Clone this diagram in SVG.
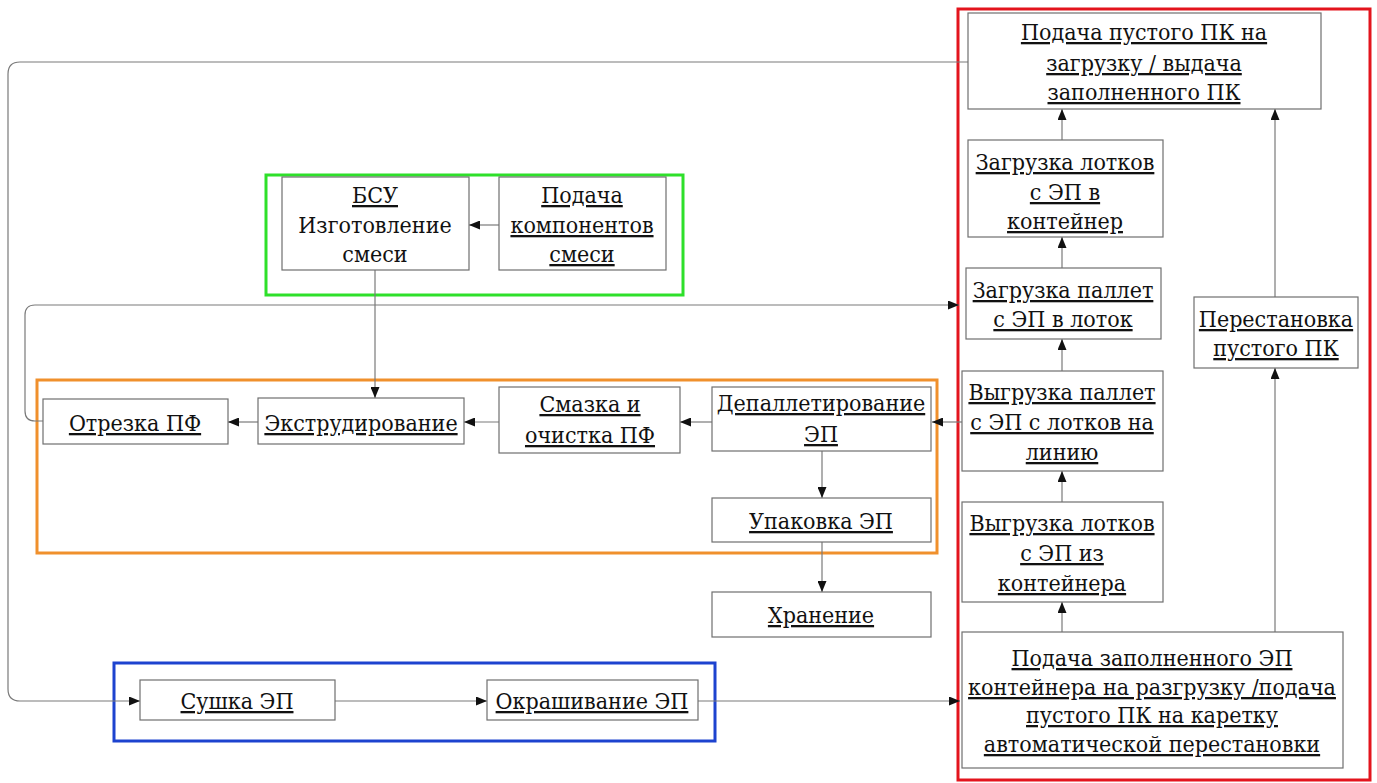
<svg xmlns="http://www.w3.org/2000/svg" width="1377" height="783" viewBox="0 0 1377 783">
<style>
.bg{fill:#ffffff}
.node rect{fill:#ffffff;stroke:#6f6f6f;stroke-width:1.2}
.node text{font-family:'DejaVu Serif Condensed','DejaVu Serif',serif;font-stretch:condensed;font-size:23px;fill:#111111;text-anchor:middle}
.u{text-decoration:underline;text-decoration-color:#8a8a8a}
.frame{fill:none;stroke-width:3}
.conn path{fill:none;stroke:#7a7a7a;stroke-width:1.2}
</style>
<defs>
<marker id="ah" markerUnits="userSpaceOnUse" markerWidth="11" markerHeight="9" refX="11" refY="4.5" orient="auto">
<path d="M0,0 L11,4.5 L0,9 Z" fill="#111111"/>
</marker>
</defs>
<rect class="bg" x="0" y="0" width="1377" height="783"/>

<g id="frames">
<rect class="frame" x="958" y="9" width="412" height="771" stroke="#e3141d"/>
<rect class="frame" x="266" y="175" width="417" height="120" stroke="#2ee02a"/>
<rect class="frame" x="37" y="380" width="900" height="173" stroke="#f0902c"/>
<rect class="frame" x="114" y="663" width="601" height="78" stroke="#1d43cf"/>
</g>

<g id="connectors" class="conn">
<path d="M968,62 H20 Q8,62 8,74 V689 Q8,701 20,701 H140" marker-end="url(#ah)"/>
<path d="M43,421 H35 Q25,421 25,411 V315 Q25,305 35,305 H959" marker-end="url(#ah)"/>
<path d="M375,270 V398" marker-end="url(#ah)"/>
<path d="M499,225 H469" marker-end="url(#ah)"/>
<path d="M258,422 H228" marker-end="url(#ah)"/>
<path d="M499,422 H464" marker-end="url(#ah)"/>
<path d="M712,422 H680" marker-end="url(#ah)"/>
<path d="M962,422 H932" marker-end="url(#ah)"/>
<path d="M822,451 V498" marker-end="url(#ah)"/>
<path d="M822,542 V592" marker-end="url(#ah)"/>
<path d="M335,701 H487" marker-end="url(#ah)"/>
<path d="M698,701 H960" marker-end="url(#ah)"/>
<path d="M1062,632 V602" marker-end="url(#ah)"/>
<path d="M1062,502 V471" marker-end="url(#ah)"/>
<path d="M1062,371 V339" marker-end="url(#ah)"/>
<path d="M1062,268 V237" marker-end="url(#ah)"/>
<path d="M1062,140 V109" marker-end="url(#ah)"/>
<path d="M1275,632 V368" marker-end="url(#ah)"/>
<path d="M1275,297 V109" marker-end="url(#ah)"/>
</g>

<g id="n_top" class="node">
<rect x="968" y="13" width="353" height="96"/>
<text x="1144" y="40" class="u">Подача пустого ПК на</text>
<text x="1144" y="71" class="u">загрузку / выдача</text>
<text x="1144" y="100" class="u">заполненного ПК</text>
</g>
<g id="n_zagr_lotkov" class="node">
<rect x="968" y="140" width="195" height="97"/>
<text x="1065" y="170" class="u">Загрузка лотков</text>
<text x="1065" y="200" class="u">с ЭП в</text>
<text x="1065" y="229" class="u">контейнер</text>
</g>
<g id="n_zagr_pallet" class="node">
<rect x="966" y="268" width="195" height="71"/>
<text x="1063" y="298" class="u">Загрузка паллет</text>
<text x="1063" y="327" class="u">с ЭП в лоток</text>
</g>
<g id="n_perestanovka" class="node">
<rect x="1194" y="297" width="164" height="71"/>
<text x="1276" y="327" class="u">Перестановка</text>
<text x="1276" y="356" class="u">пустого ПК</text>
</g>
<g id="n_vygr_pallet" class="node">
<rect x="962" y="371" width="201" height="100"/>
<text x="1062" y="400" class="u">Выгрузка паллет</text>
<text x="1062" y="430" class="u">с ЭП с лотков на</text>
<text x="1062" y="460" class="u">линию</text>
</g>
<g id="n_vygr_lotkov" class="node">
<rect x="962" y="502" width="201" height="100"/>
<text x="1062" y="531" class="u">Выгрузка лотков</text>
<text x="1062" y="561" class="u">с ЭП из</text>
<text x="1062" y="591" class="u">контейнера</text>
</g>
<g id="n_podacha_zap" class="node">
<rect x="962" y="632" width="381" height="136"/>
<text x="1152" y="666" class="u">Подача заполненного ЭП</text>
<text x="1152" y="695" class="u">контейнера на разгрузку /подача</text>
<text x="1152" y="723" class="u">пустого ПК на каретку</text>
<text x="1152" y="752" class="u">автоматической перестановки</text>
</g>
<g id="n_bsu" class="node">
<rect x="282" y="177" width="187" height="93"/>
<text x="375" y="203" class="u">БСУ</text>
<text x="375" y="233">Изготовление</text>
<text x="375" y="262">смеси</text>
</g>
<g id="n_komponenty" class="node">
<rect x="499" y="177" width="167" height="93"/>
<text x="582" y="203" class="u">Подача</text>
<text x="582" y="233" class="u">компонентов</text>
<text x="582" y="262" class="u">смеси</text>
</g>
<g id="n_otrezka" class="node">
<rect x="43" y="399" width="185" height="45"/>
<text x="135" y="431" class="u">Отрезка ПФ</text>
</g>
<g id="n_ekstrud" class="node">
<rect x="258" y="398" width="206" height="46"/>
<text x="361" y="431" class="u">Экструдирование</text>
</g>
<g id="n_smazka" class="node">
<rect x="499" y="387" width="181" height="66"/>
<text x="590" y="412" class="u">Смазка и</text>
<text x="590" y="443" class="u">очистка ПФ</text>
</g>
<g id="n_depall" class="node">
<rect x="712" y="387" width="219" height="64"/>
<text x="821" y="411" class="u">Депаллетирование</text>
<text x="821" y="442" class="u">ЭП</text>
</g>
<g id="n_upakovka" class="node">
<rect x="712" y="498" width="219" height="44"/>
<text x="821" y="529" class="u">Упаковка ЭП</text>
</g>
<g id="n_hranenie" class="node">
<rect x="712" y="592" width="219" height="45"/>
<text x="821" y="623" class="u">Хранение</text>
</g>
<g id="n_sushka" class="node">
<rect x="140" y="680" width="195" height="40"/>
<text x="237" y="709" class="u">Сушка ЭП</text>
</g>
<g id="n_okrash" class="node">
<rect x="487" y="680" width="211" height="40"/>
<text x="592" y="709" class="u">Окрашивание ЭП</text>
</g>
</svg>
